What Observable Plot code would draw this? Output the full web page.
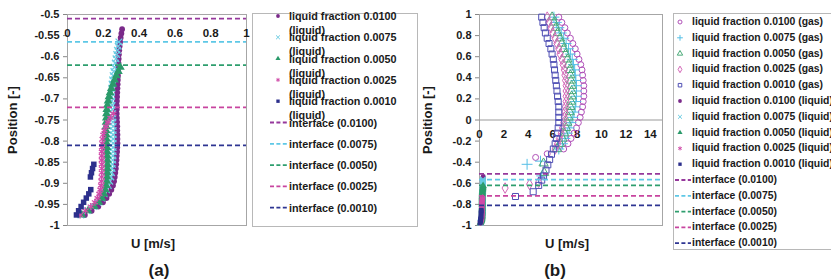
<!DOCTYPE html>
<html><head><meta charset="utf-8">
<script src="https://cdn.jsdelivr.net/npm/d3@7"></script>
<script src="https://cdn.jsdelivr.net/npm/@observablehq/plot@0.6"></script>
<style>
body{margin:0;background:#fff;}
#root{position:relative;width:831px;height:280px;overflow:hidden;font-family:"Liberation Sans",Arial,sans-serif;font-weight:bold;color:#1a1a1a;background:#fff;}
.lbl{position:absolute;white-space:nowrap;line-height:1;transform:translate(-50%,-50%);}
.legend{position:absolute;border:1px solid #b8b8b8;background:#fff;box-sizing:border-box;}
.ltxt{position:absolute;line-height:14px;}
</style></head><body><div id="root"></div>
<script>
// ---------- data ----------
const fractions = ["0.0100", "0.0075", "0.0050", "0.0025", "0.0010"];
const interfacePos = [-0.51, -0.565, -0.62, -0.72, -0.81];

const yTicksA = [-0.5, -0.55, -0.6, -0.65, -0.7, -0.75, -0.8, -0.85, -0.9, -0.95, -1];
const xTicksA = [0, 0.2, 0.4, 0.6, 0.8, 1];
const yTicksB = [1, 0.8, 0.6, 0.4, 0.2, 0, -0.2, -0.4, -0.6, -0.8, -1];
const xTicksB = [0, 2, 4, 6, 8, 10, 12, 14];

// liquid-phase position grid (shared); each series uses its first N entries
const posL = [-0.975,-0.965,-0.955,-0.945,-0.935,-0.925,-0.915,-0.905,-0.895,-0.885,-0.875,-0.865,-0.855,-0.845,-0.835,-0.825,-0.815,-0.805,-0.795,-0.785,-0.775,-0.765,-0.755,-0.745,-0.735,-0.725,-0.715,-0.705,-0.695,-0.685,-0.675,-0.665,-0.655,-0.645,-0.635,-0.625,-0.615,-0.605,-0.595,-0.585,-0.575,-0.565,-0.555,-0.545,-0.535];
const uL0100 = [0.097,0.135,0.172,0.198,0.218,0.233,0.245,0.254,0.26,0.264,0.267,0.27,0.272,0.274,0.275,0.277,0.278,0.279,0.279,0.279,0.278,0.278,0.277,0.276,0.275,0.275,0.275,0.276,0.277,0.278,0.279,0.28,0.281,0.282,0.283,0.284,0.285,0.286,0.287,0.289,0.291,0.294,0.297,0.301,0.305];
const uL0075 = [0.075,0.11,0.145,0.17,0.19,0.205,0.218,0.228,0.236,0.242,0.246,0.249,0.251,0.253,0.254,0.255,0.255,0.255,0.255,0.255,0.255,0.255,0.254,0.253,0.252,0.251,0.249,0.247,0.246,0.246,0.247,0.249,0.252,0.255,0.259,0.263,0.267,0.271,0.275,0.279,0.283,0.287];
const uL0050 = [0.08,0.115,0.15,0.175,0.192,0.203,0.211,0.216,0.219,0.221,0.222,0.223,0.223,0.223,0.222,0.221,0.22,0.219,0.218,0.217,0.216,0.216,0.216,0.217,0.218,0.22,0.223,0.227,0.232,0.238,0.245,0.254,0.263,0.273,0.284,0.295];
const uL0025 = [0.07,0.1,0.13,0.153,0.168,0.178,0.184,0.188,0.19,0.191,0.192,0.192,0.192,0.192,0.192,0.192,0.193,0.194,0.196,0.2,0.206,0.215,0.226,0.24,0.256];
const uL0010 = [0.05,0.062,0.076,0.09,0.105,0.119,0.13,null,null,0.128,0.134,0.14,0.147];

// gas-phase position grid (shared) and values
const posG = [0.975,0.925,0.875,0.825,0.775,0.725,0.675,0.625,0.575,0.525,0.475,0.425,0.375,0.325,0.275,0.225,0.175,0.125,0.075,0.025,-0.025,-0.075,-0.125,-0.175,-0.225];
const uG0100 = [6.5,6.75,7.0,7.2,7.45,7.65,7.85,8.0,8.15,8.3,8.4,8.45,8.5,8.55,8.55,8.55,8.5,8.45,8.35,8.25,8.1,7.95,7.75,7.5,7.25];
const uG0075 = [6.1,6.3,6.5,6.7,6.9,7.1,7.3,7.45,7.6,7.7,7.8,7.85,7.9,7.95,7.95,7.95,7.9,7.85,7.75,7.65,7.5,7.35,7.2,7.0,6.8];
const uG0050 = [5.95,6.1,6.25,6.4,6.6,6.75,6.9,7.05,7.2,7.3,7.4,7.45,7.5,7.55,7.55,7.55,7.5,7.45,7.4,7.3,7.2,7.1,6.95,6.8,6.6];
const uG0025 = [5.55,5.7,5.85,6.0,6.2,6.35,6.5,6.6,6.75,6.85,6.95,7.0,7.05,7.1,7.1,7.1,7.1,7.05,7.0,6.95,6.9,6.8,6.7,6.55,6.4];
const uG0010 = [5.1,5.2,5.3,5.4,5.55,5.7,5.85,5.95,6.05,6.1,6.15,6.2,6.25,6.3,6.35,6.4,6.45,6.5,6.5,6.5,6.5,6.45,6.4,6.3,6.2];
// scattered gas points near the interface
const sPos0100 = [-0.275,-0.32,-0.355];             const sU0100 = [6.9,5.55,4.6];
const sPos0075 = [-0.275,-0.39,-0.42,-0.53];        const sU0075 = [6.5,5.0,3.9,5.1];
const sPos0050 = [-0.275,-0.41,-0.5];               const sU0050 = [6.35,5.25,5.3];
const sPos0025 = [-0.275,-0.59,-0.61,-0.645];       const sU0025 = [6.2,4.85,4.1,2.1];
const sPos0010 = [-0.275,-0.325,-0.375,-0.425,-0.475,-0.53,-0.57,-0.62,-0.68,-0.725];
const sU0010   = [6.05,5.9,5.75,5.6,5.45,5.25,5.1,4.85,4.4,2.95];

// ---------- styles ----------
const FONT = "'Liberation Sans', Arial, sans-serif";
const liqColors = ["#7a2a8a", "#6accE2", "#2a9a6a", "#d04aa8", "#2c2f8c"];
const gasColors = ["#b050b8", "#55bfe6", "#4aaa78", "#d468b8", "#4f4fb4"];
const ifColors  = ["#96389c", "#5ec8e6", "#2e9e6e", "#c8449f", "#2e3592"];
const liqSym = ["circle", "times", "triangle", "asterisk", "square"];
const liqR   = [2.9, 3.1, 3.3, 3.3, 3.1];
const gasSym = ["circle", "plus", "triangle", "diamond", "square"];
const gasR   = [3, 3.6, 3.4, 3.2, 3.4];
const strokeOnly = new Set(["times", "plus", "asterisk"]);

// ---------- tables ----------
const uLiq = [uL0100, uL0075, uL0050, uL0025, uL0010];
const liqData = uLiq.map(arr => arr.map((u, j) => ({u, pos: posL[j]})).filter(d => d.u != null));
const uGas = [uG0100, uG0075, uG0050, uG0025, uG0010];
const sPos = [sPos0100, sPos0075, sPos0050, sPos0025, sPos0010];
const sU = [sU0100, sU0075, sU0050, sU0025, sU0010];
const gasData = uGas.map((arr, i) => arr.map((u, j) => ({u, pos: posG[j]})).concat(sPos[i].map((p, j) => ({u: sU[i][j], pos: p}))));

function dotOpts(sym, color, r, open, sw) {
  if (strokeOnly.has(sym) || open) return {x: "u", y: "pos", symbol: sym, r, stroke: color, fill: "none", strokeWidth: sw || 1.1};
  return {x: "u", y: "pos", symbol: sym, r, fill: color, stroke: "none"};
}
const liqMarks = (scale) => liqData.map((d, i) => Plot.dot(d, dotOpts(liqSym[i], liqColors[i], liqR[i] * scale, false, 1.3)));
const ifMarks = () => interfacePos.map((p, i) => Plot.ruleY([p], {stroke: ifColors[i], strokeDasharray: "5,3", strokeWidth: 1.8}));

const baseStyle = {fontFamily: FONT, fontSize: "11px", fontWeight: "bold", color: "#1a1a1a", background: "transparent", overflow: "visible"};

// ---------- panel (a) ----------
const plotA = Plot.plot({
  width: 250, height: 228, marginLeft: 67, marginRight: 4, marginTop: 14, marginBottom: 3,
  x: {domain: [0, 1], axis: null},
  y: {domain: [-1, -0.5]},
  style: baseStyle,
  marks: [
    Plot.frame({stroke: "#a6a6a6"}),
    Plot.axisY(yTicksA, {tickFormat: d => String(d), tickSize: 4, tickPadding: 4, stroke: "#888", label: null}),
    Plot.text(xTicksA, {x: d => d, frameAnchor: "top", dy: 14, text: d => String(d), fontSize: 11.5}),
    ...liqMarks(1),
    ...ifMarks()
  ]
});

// ---------- panel (b) ----------
const plotB = Plot.plot({
  width: 246, height: 228, marginLeft: 59, marginRight: 4, marginTop: 14, marginBottom: 3,
  x: {domain: [0, 15], axis: null},
  y: {domain: [-1, 1]},
  style: baseStyle,
  marks: [
    Plot.frame({stroke: "#a6a6a6"}),
    Plot.ruleY([0], {stroke: "#999"}),
    Plot.axisY(yTicksB, {tickFormat: d => String(d), tickSize: 4, tickPadding: 4, stroke: "#888", label: null}),
    Plot.text(xTicksB, {x: d => d, y: () => 0, dy: 14, text: d => String(d), fontSize: 11.5}),
    ...gasData.map((d, i) => Plot.dot(d, dotOpts(gasSym[i], gasColors[i], gasR[i], true, 1))),
    ...liqMarks(0.85),
    ...ifMarks()
  ]
});

const root = document.getElementById("root");
function place(el, left, top) {
  const w = document.createElement("div");
  w.style.cssText = `position:absolute;left:${left}px;top:${top}px;`;
  w.appendChild(el);
  root.appendChild(w);
}
place(plotA, 0, 0);
place(plotB, 420, 0);

// ---------- text labels ----------
function label(text, cx, cy, size, rotate) {
  const d = document.createElement("div");
  d.className = "lbl";
  d.textContent = text;
  d.style.left = cx + "px";
  d.style.top = cy + "px";
  d.style.fontSize = size + "px";
  if (rotate) d.style.transform = "translate(-50%,-50%) rotate(-90deg)";
  root.appendChild(d);
}
label("Position [-]", 12, 120, 13, true);
label("U [m/s]", 153, 243, 13);
label("(a)", 159, 270, 17);
label("Position [-]", 427, 120, 13, true);
label("U [m/s]", 567, 243, 13);
label("(b)", 555, 270, 17);

// ---------- legends ----------
const liqLabels = fractions.map(f => `liquid fraction ${f} (liquid)`);
const gasLabels = fractions.map(f => `liquid fraction ${f} (gas)`);
const ifLabels = fractions.map(f => `interface (${f})`);

const overlay = d3.select(root).append("svg")
  .attr("width", 831).attr("height", 280)
  .style("position", "absolute").style("left", 0).style("top", 0).style("z-index", 2).style("overflow", "visible");

function legend(box, rows, o) {
  const b = document.createElement("div");
  b.className = "legend";
  Object.assign(b.style, {left: box[0] + "px", top: box[1] + "px", width: box[2] + "px", height: box[3] + "px"});
  root.insertBefore(b, overlay.node());
  rows.forEach((row, i) => {
    const cy = o.y0 + o.step * i;
    if (row.kind === "dash") {
      overlay.append("line").attr("x1", o.dash[0]).attr("x2", o.dash[1]).attr("y1", cy).attr("y2", cy)
        .attr("stroke", row.color).attr("stroke-width", 1.8).attr("stroke-dasharray", "4,2.4");
    } else {
      const sym = {circle: d3.symbolCircle, times: d3.symbolTimes, triangle: d3.symbolTriangle, asterisk: d3.symbolAsterisk,
                   square: d3.symbolSquare, plus: d3.symbolPlus, diamond: d3.symbolDiamond}[row.sym];
      const p = overlay.append("path").attr("d", d3.symbol(sym, Math.PI * row.r * row.r)())
        .attr("transform", `translate(${o.mx},${cy})`);
      if (strokeOnly.has(row.sym) || row.open) p.attr("fill", "none").attr("stroke", row.color).attr("stroke-width", 1);
      else p.attr("fill", row.color);
    }
    const t = document.createElement("div");
    t.className = "ltxt";
    t.textContent = row.text;
    Object.assign(t.style, {left: o.tx + "px", top: (cy - 7) + "px", fontSize: o.fs + "px", width: o.tw ? o.tw + "px" : "auto", whiteSpace: o.tw ? "normal" : "nowrap", zIndex: 3});
    root.appendChild(t);
  });
}

const rowsA = liqLabels.map((t, i) => ({kind: "dot", sym: liqSym[i], color: liqColors[i], r: 1.9, text: t}))
  .concat(ifLabels.map((t, i) => ({kind: "dash", color: ifColors[i], text: t})));
legend([252, 13, 166, 214], rowsA, {y0: 16, step: 21.3, mx: 278, dash: [270, 288], tx: 289, fs: 10.8, tw: 126});

const rowsB = gasLabels.map((t, i) => ({kind: "dot", sym: gasSym[i], color: gasColors[i], r: 2, open: true, text: t}))
  .concat(liqLabels.map((t, i) => ({kind: "dot", sym: liqSym[i], color: liqColors[i], r: 1.9, text: t})))
  .concat(ifLabels.map((t, i) => ({kind: "dash", color: ifColors[i], text: t})));
legend([673, 13, 175, 237], rowsB, {y0: 22, step: 15.8, mx: 680, dash: [675, 691], tx: 692, fs: 10.4});
</script></body></html>
